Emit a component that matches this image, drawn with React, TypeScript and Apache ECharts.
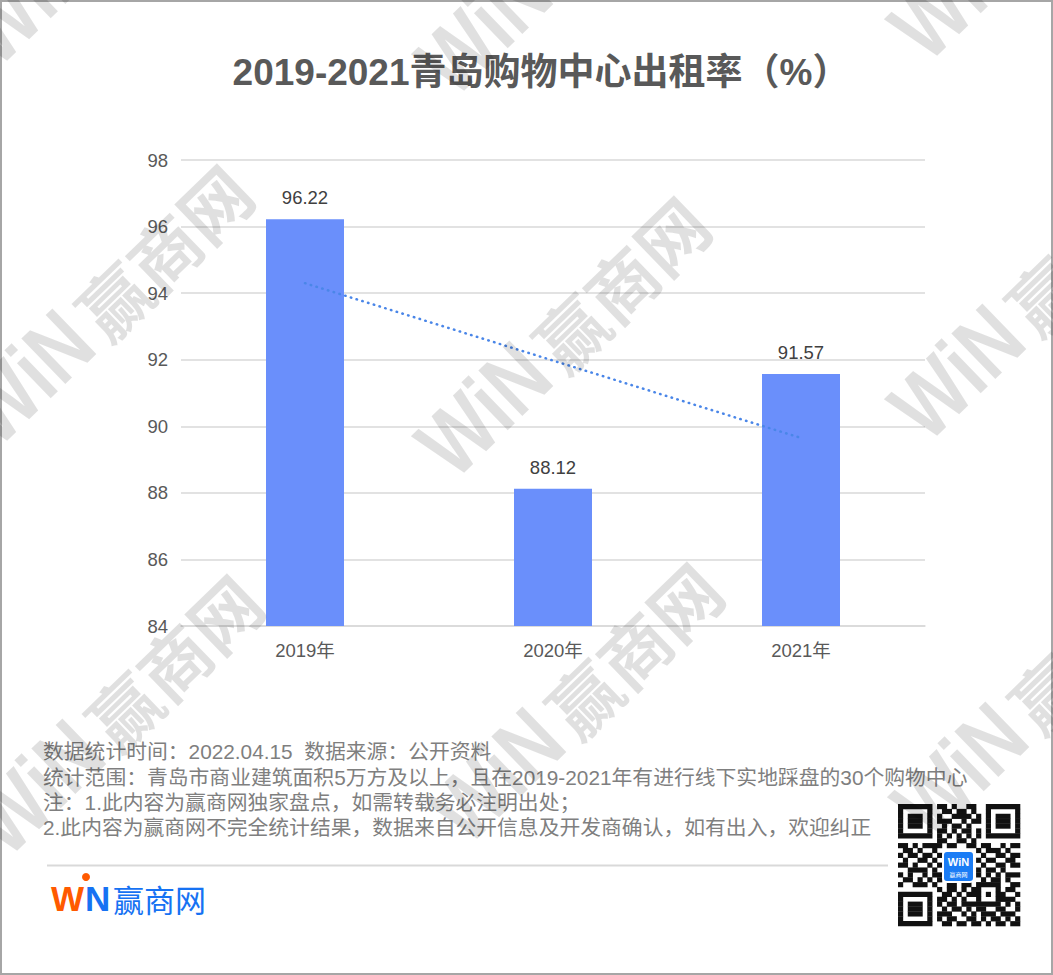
import React, { useEffect, useRef } from "react";
import * as echarts from "echarts";

// ---------- data ----------
const TITLE = "2019-2021青岛购物中心出租率（%）";
const CATEGORIES = ["2019年", "2020年", "2021年"];
const RENT_RATE = [96.22, 88.12, 91.57];
// dotted linear trend line at the first and last category
const TREND = [94.3, null, 89.65];
const Y_MIN = 84;
const Y_MAX = 98;
const Y_STEP = 2;
const FOOTER_LINES = [
  "数据统计时间：2022.04.15  数据来源：公开资料",
  "统计范围：青岛市商业建筑面积5万方及以上，且在2019-2021年有进行线下实地踩盘的30个购物中心",
  "注：1.此内容为赢商网独家盘点，如需转载务必注明出处；",
  "2.此内容为赢商网不完全统计结果，数据来自公开信息及开发商确认，如有出入，欢迎纠正",
];
const BRAND = "赢商网";

// ---------- decoration ----------
const FONT = '"Liberation Sans", Arial, "Noto Sans CJK SC", sans-serif';
const WATERMARK_ANCHORS = [
  [-2, 70], [455, 100], [928, 65],
  [-2, 450], [455, 482], [928, 445],
  [8, 860], [468, 848], [931, 843],
];
const QR_ROWS = [
  "1111111011010011001111111",
  "1000001001101101001000001",
  "1011101010011110101011101",
  "1011101011100101101011101",
  "1011101001011010001011101",
  "1000001011010110101000001",
  "1111111010101010101111111",
  "0000000011001101000000000",
  "1101011110110011011001011",
  "0110100101101100101110100",
  "1011011010011011010011011",
  "0100110101100101101100110",
  "1101001011011010010011011",
  "0011110100110101101101000",
  "1010010110101100101010111",
  "0110101011010011010110100",
  "1001110100110110111110011",
  "0000000010110101100010110",
  "1111111001101011101011001",
  "1000001011010100100011110",
  "1011101010110111111110101",
  "1011101001011010110011001",
  "1011101011100101011101110",
  "1000001010110011010110101",
  "1111111001101101101011011",
];

function qrElements(x0: number, y0: number, size: number) {
  const n = 25;
  const s = size / n;
  const grid: boolean[][] = [];
  for (let r = 0; r < n; r++) {
    const row = (QR_ROWS[r] || "").padEnd(n, "0").slice(0, n);
    grid.push(row.split("").map((c) => c === "1"));
  }
  const finder = (fr: number, fc: number) => {
    for (let r = -1; r <= 7; r++)
      for (let c = -1; c <= 7; c++) {
        const rr = fr + r, cc = fc + c;
        if (rr < 0 || cc < 0 || rr >= n || cc >= n) continue;
        const inside = r >= 0 && r <= 6 && c >= 0 && c <= 6;
        const ring = r === 0 || r === 6 || c === 0 || c === 6;
        const core = r >= 2 && r <= 4 && c >= 2 && c <= 4;
        grid[rr][cc] = inside && (ring || core);
      }
  };
  finder(0, 0);
  finder(0, 18);
  finder(18, 0);
  for (let r = 0; r < 5; r++)
    for (let c = 0; c < 5; c++) {
      const ring = r === 0 || r === 4 || c === 0 || c === 4;
      grid[16 + r][16 + c] = ring || (r === 2 && c === 2);
    }
  for (let r = 9; r <= 15; r++) for (let c = 9; c <= 15; c++) grid[r][c] = false;
  const els: any[] = [];
  for (let r = 0; r < n; r++) {
    let c = 0;
    while (c < n) {
      if (grid[r][c]) {
        let e = c;
        while (e < n && grid[r][e]) e++;
        els.push({
          type: "rect",
          silent: true,
          shape: { x: x0 + c * s, y: y0 + r * s, width: (e - c) * s + 0.3, height: s + 0.3 },
          style: { fill: "#111" },
        });
        c = e;
      } else c++;
    }
  }
  return els;
}

function watermark(x: number, y: number) {
  const fill = "rgba(0,0,0,0.12)";
  return {
    type: "group",
    x,
    y,
    rotation: (44 * Math.PI) / 180,
    silent: true,
    children: [
      {
        type: "text",
        x: 0,
        y: 14,
        scaleX: 0.8,
        z: 100,
        style: {
          text: "WiN",
          fontSize: 92,
          fontWeight: 900,
          fontFamily: FONT,
          fill,
          verticalAlign: "bottom",
        },
      },
      {
        type: "text",
        x: 152,
        y: 6,
        z: 100,
        style: {
          text: BRAND,
          fontSize: 70,
          fontWeight: "bold",
          fontFamily: '"Noto Sans CJK SC", sans-serif',
          fill,
          verticalAlign: "bottom",
        },
      },
    ],
  };
}

export default function App() {
  const ref = useRef<HTMLDivElement>(null);

  useEffect(() => {
    document.body.style.margin = "0";
    const chart = echarts.init(ref.current!, null, { renderer: "svg" });

    const footer = FOOTER_LINES.map((t, i) => ({
      type: "text",
      x: 43,
      y: [751, 777, 802, 827][i],
      silent: true,
      style: {
        text: t,
        fontSize: 20.8,
        fontFamily: FONT,
        fill: "#7f7f7f",
        verticalAlign: "middle",
      },
    }));

    const option: any = {
      animation: false,
      backgroundColor: "#ffffff",
      textStyle: { fontFamily: FONT },
      grid: { left: 181, right: 128, top: 160, bottom: 349, containLabel: false },
      xAxis: {
        type: "category",
        data: CATEGORIES,
        axisTick: { show: false },
        axisLine: { show: true, lineStyle: { color: "#d9d9d9", width: 1.5 } },
        axisLabel: { color: "#595959", fontSize: 18.5, margin: 15, fontFamily: FONT },
      },
      yAxis: {
        type: "value",
        min: Y_MIN,
        max: Y_MAX,
        interval: Y_STEP,
        axisLine: { show: false },
        axisTick: { show: false },
        axisLabel: { color: "#595959", fontSize: 18.5, margin: 13, fontFamily: FONT },
        splitLine: { lineStyle: { color: "#d9d9d9", width: 1.5 } },
      },
      series: [
        {
          type: "bar",
          data: RENT_RATE,
          barWidth: 78,
          itemStyle: { color: "#6a8ffb" },
          label: {
            show: true,
            position: "top",
            distance: 12,
            color: "#404040",
            fontSize: 18.5,
            fontFamily: FONT,
            formatter: (p: any) => p.value.toFixed(2),
          },
          z: 2,
        },
        {
          type: "line",
          data: TREND,
          connectNulls: true,
          showSymbol: false,
          symbol: "none",
          silent: true,
          lineStyle: { color: "#4a86e8", width: 2.5, type: [0.5, 5.5], cap: "round" },
          z: 3,
        },
      ],
      graphic: [
        ...WATERMARK_ANCHORS.map(([x, y]) => watermark(x, y)),
        {
          type: "text",
          x: 541,
          y: 72,
          silent: true,
          style: {
            text: TITLE,
            fontSize: 37,
            fontWeight: "bold",
            fontFamily: FONT,
            fill: "#595959",
            align: "center",
            verticalAlign: "middle",
          },
        },
        ...footer,
        {
          type: "line",
          silent: true,
          shape: { x1: 47, y1: 865.5, x2: 888, y2: 865.5 },
          style: { stroke: "#d9d9d9", lineWidth: 2 },
        },
        {
          type: "text",
          x: 51,
          y: 898,
          silent: true,
          style: {
            text: "W",
            fontSize: 35,
            fontWeight: 900,
            fontFamily: FONT,
            fill: "#ff5a00",
            verticalAlign: "middle",
          },
        },
        {
          type: "circle",
          silent: true,
          shape: { cx: 86, cy: 877, r: 4 },
          style: { fill: "#ff5a00" },
        },
        {
          type: "text",
          x: 85,
          y: 898,
          silent: true,
          style: {
            text: "N",
            fontSize: 35,
            fontWeight: 900,
            fontFamily: FONT,
            fill: "#1672f3",
            verticalAlign: "middle",
          },
        },
        {
          type: "text",
          x: 113,
          y: 898,
          silent: true,
          style: {
            text: BRAND,
            fontSize: 31,
            fontFamily: '"Noto Sans CJK SC", sans-serif',
            fill: "#1672f3",
            verticalAlign: "middle",
          },
        },
        ...qrElements(898, 804, 122),
        {
          type: "rect",
          silent: true,
          shape: { x: 943, y: 851, width: 31, height: 31, r: 4 },
          style: { fill: "#1a7cf5", stroke: "#ffffff", lineWidth: 2 },
        },
        {
          type: "text",
          x: 958.5,
          y: 862,
          silent: true,
          style: {
            text: "WiN",
            fontSize: 11,
            fontWeight: 900,
            fontFamily: FONT,
            fill: "#ffffff",
            align: "center",
            verticalAlign: "middle",
          },
        },
        {
          type: "text",
          x: 958.5,
          y: 874,
          silent: true,
          style: {
            text: BRAND,
            fontSize: 6,
            fontFamily: '"Noto Sans CJK SC", sans-serif',
            fill: "#ffffff",
            align: "center",
            verticalAlign: "middle",
          },
        },
        {
          type: "rect",
          silent: true,
          shape: { x: 1, y: 1, width: 1051, height: 973 },
          style: { fill: "none", stroke: "#a6a6a6", lineWidth: 2 },
        },
      ],
    };

    chart.setOption(option);
    return () => chart.dispose();
  }, []);

  return (
    <div
      ref={ref}
      style={{ position: "absolute", left: 0, top: 0, width: 1053, height: 975, background: "#fff" }}
    />
  );
}
